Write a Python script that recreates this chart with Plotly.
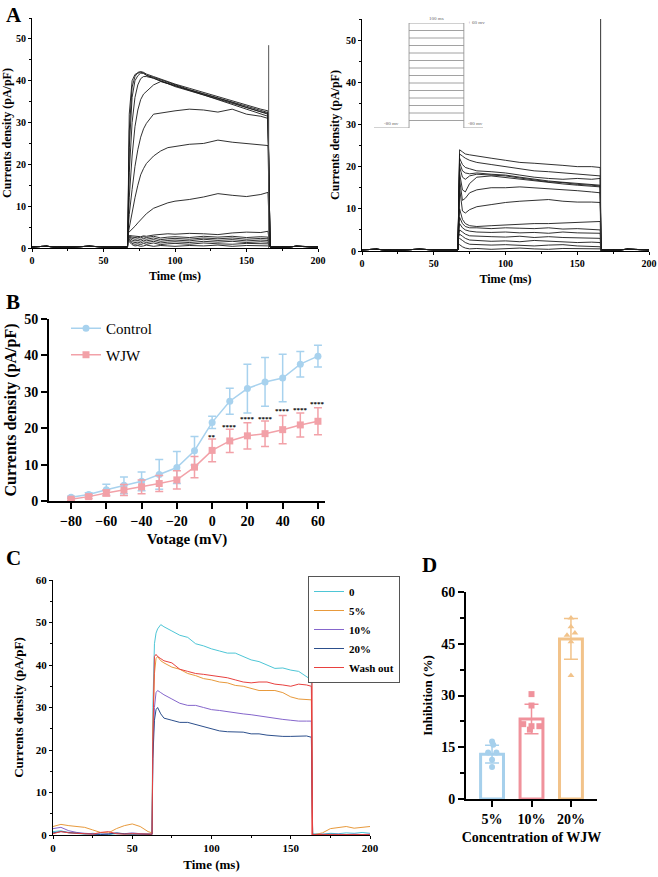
import plotly.graph_objects as go

W, H = 658, 877
SERIF = "Liberation Serif"

# ---------------- DATA ----------------
# Panel A (left: control, right: WJW) – step phase time points (ms)
A_pre_t = [0, 10, 20, 30, 40, 50, 60, 66.8]
A_pre_v = [0.3, 0.4, 0.2, 0.3, 0.4, 0.3, 0.2, 0.3]
A_post_t = [166.5, 175, 185, 195, 200]
A_post_v = [0.3, 0.2, 0.4, 0.3, 0.3]

A_left_t = [67, 68, 70, 72, 74, 76, 78, 80, 85, 90, 95, 100, 110, 120, 130, 140, 150, 160, 165]
A_left = {
    -80: [2.5, 1.5, 0.8, 0.5, 0.6, 0.4, 0.5, 0.7, 0.4, 0.6, 0.5, 0.4, 0.6, 0.5, 0.7, 0.4, 0.6, 0.5, 0.5],
    -70: [2.7, 1.8, 1.1, 0.9, 1.0, 0.8, 1.1, 0.9, 1.2, 0.8, 1.0, 1.1, 0.9, 1.2, 1.0, 0.9, 1.1, 1.0, 1.0],
    -60: [2.9, 2.1, 1.5, 1.3, 1.4, 1.2, 1.5, 1.3, 1.6, 1.2, 1.4, 1.5, 1.3, 1.6, 1.4, 1.6, 1.3, 1.5, 1.4],
    -50: [3.0, 2.4, 1.9, 1.7, 1.8, 1.6, 1.9, 1.7, 2.0, 1.6, 1.8, 1.9, 1.7, 2.1, 1.8, 2.0, 1.7, 1.9, 1.8],
    -40: [3.1, 2.6, 2.3, 2.1, 2.2, 2.0, 2.3, 2.1, 2.4, 2.0, 2.2, 2.3, 2.1, 2.4, 2.2, 2.4, 2.1, 2.3, 2.2],
    -30: [3.2, 2.8, 2.6, 2.5, 2.6, 2.4, 2.7, 2.5, 2.8, 2.4, 2.6, 2.7, 2.5, 2.8, 2.6, 2.8, 2.5, 2.7, 2.6],
    -20: [3.3, 3.0, 2.9, 2.8, 2.8, 2.7, 2.9, 2.8, 3.1, 3.2, 3.4, 3.3, 3.5, 3.4, 3.2, 3.6, 3.8, 3.7, 4.0],
    -10: [3.5, 3.8, 4.5, 5.2, 6.0, 6.8, 7.5, 8.2, 9.5, 10.2, 10.8, 11.2, 11.6, 12.2, 13.0, 12.6, 12.3, 12.8, 13.3],
    0: [3.0, 5.0, 8.5, 12.0, 15.0, 17.5, 19.0, 20.2, 22.0, 23.2, 24.0, 24.3, 24.8, 25.0, 25.8, 25.3, 25.0, 24.6, 24.5],
    10: [3.0, 8.0, 14.0, 19.5, 23.5, 26.5, 28.5, 29.8, 32.0, 32.3, 32.6, 32.8, 33.2, 33.0, 32.5, 33.2, 32.0, 31.5, 31.0],
    20: [3.0, 12.0, 22.0, 29.0, 33.0, 35.5, 36.8, 37.5, 39.0, 39.8, 39.3, 38.8, 37.8, 36.8, 35.8, 34.8, 33.6, 32.6, 32.0],
    30: [3.0, 18.0, 30.0, 36.0, 39.0, 40.5, 41.0, 41.0, 40.6, 40.0, 39.3, 38.6, 37.6, 36.6, 35.6, 34.6, 33.5, 32.6, 32.2],
    40: [3.0, 24.0, 36.0, 40.0, 41.2, 41.8, 41.8, 41.3, 40.8, 40.2, 39.6, 39.0, 37.9, 36.9, 35.9, 34.9, 33.8, 32.8, 32.4],
    50: [3.0, 28.0, 38.5, 41.0, 42.0, 42.2, 42.0, 41.6, 41.0, 40.4, 39.8, 39.2, 38.2, 37.2, 36.2, 35.2, 34.1, 33.2, 32.8],
    60: [3.0, 32.0, 40.0, 41.5, 41.8, 42.0, 41.8, 41.3, 40.6, 39.9, 39.4, 38.8, 37.7, 36.6, 35.5, 34.4, 33.3, 32.2, 31.5],
}
A_left_transient_t = [165.5, 165.5]
A_left_transient_v = [0, 48.5]

A_right_t = [67, 68, 70, 72, 75, 80, 90, 100, 110, 120, 130, 140, 150, 160, 166]
A_right = {
    60: [3, 24.0, 23.5, 23.0, 22.8, 22.5, 22.0, 21.5, 21.0, 20.8, 20.6, 20.3, 20.0, 20.0, 19.8],
    50: [3, 23.0, 22.5, 22.0, 21.5, 21.0, 20.5, 20.0, 19.5, 19.0, 18.8, 18.5, 18.2, 18.0, 17.8],
    40: [3, 22.0, 20.5, 19.8, 19.5, 19.0, 18.8, 18.5, 18.0, 17.5, 17.2, 17.0, 17.2, 17.0, 17.2],
    30: [3, 21.0, 19.0, 18.5, 18.3, 18.5, 18.2, 18.0, 17.5, 17.0, 16.6, 16.3, 16.0, 15.8, 15.6],
    20: [3, 20.0, 17.5, 17.0, 17.8, 18.2, 18.0, 17.8, 17.3, 16.8, 16.4, 16.2, 15.8, 15.6, 15.4],
    10: [3, 18.5, 14.5, 14.0, 16.0, 17.5, 17.8, 17.4, 17.0, 16.6, 16.2, 15.9, 15.6, 15.3, 15.2],
    0: [3, 17.0, 12.0, 12.5, 13.8, 14.5, 15.0, 15.0, 15.2, 15.0, 14.8, 14.6, 14.3, 14.0, 13.8],
    -10: [3, 15.0, 9.5, 9.0, 9.8, 10.5, 11.0, 11.5, 11.8, 12.0, 12.2, 11.8, 11.6, 11.6, 11.5],
    -20: [3, 10.0, 7.5, 6.5, 6.0, 5.8, 6.0, 6.2, 6.3, 6.5, 6.5, 6.6, 6.7, 6.8, 7.0],
    -30: [3, 8.0, 6.5, 5.8, 5.5, 5.5, 5.3, 5.5, 5.4, 5.3, 5.5, 5.2, 5.3, 5.1, 5.0],
    -40: [3, 6.5, 5.5, 5.0, 4.7, 4.5, 4.4, 4.5, 4.3, 4.4, 4.2, 4.5, 4.3, 4.2, 4.2],
    -50: [3, 5.0, 4.5, 4.0, 3.6, 3.5, 3.4, 3.3, 3.5, 3.2, 3.4, 3.2, 3.1, 3.0, 3.0],
    -60: [3, 4.0, 3.5, 3.0, 2.6, 2.5, 2.3, 2.4, 2.2, 2.5, 2.3, 2.1, 2.0, 2.1, 2.0],
    -70: [3, 3.0, 2.5, 2.0, 1.6, 1.5, 1.4, 1.5, 1.3, 1.2, 1.4, 1.5, 1.2, 1.0, 1.0],
    -80: [1.5, 1.5, 1.0, 0.7, 0.5, 0.6, 0.4, 0.5, 0.7, 0.5, 0.4, 0.6, 0.5, 0.4, 0.5],
}
A_right_transient_t = [166.3, 166.3]
A_right_transient_v = [0, 60]

# voltage protocol inset
protocol_levels = [-80, -70, -60, -50, -40, -30, -20, -10, 0, 10, 20, 30, 40, 50, 60]
protocol_hold = -80
protocol_step_ms = 100

# Panel B – I-V curve
voltage = [-80, -70, -60, -50, -40, -30, -20, -10, 0, 10, 20, 30, 40, 50, 60]
control_mean = [1.0, 1.8, 3.1, 4.3, 5.4, 7.3, 9.2, 13.8, 21.6, 27.4, 30.9, 32.7, 33.8, 37.6, 39.8]
control_sd = [0.3, 0.5, 1.5, 2.3, 2.6, 4.1, 4.4, 3.9, 1.7, 3.6, 6.7, 6.7, 6.5, 3.5, 3.0]
wjw_mean = [0.5, 1.2, 2.2, 3.0, 3.9, 4.8, 5.8, 9.3, 13.9, 16.5, 17.9, 18.5, 19.6, 20.9, 21.9]
wjw_sd = [0.3, 0.5, 0.8, 1.5, 1.9, 2.2, 2.5, 2.9, 3.1, 3.2, 3.6, 3.5, 3.9, 3.3, 3.7]
star_v = [0, 10, 20, 30, 40, 50, 60]
star_y = [17.6, 20.3, 22.5, 22.5, 24.6, 24.9, 26.6]
star_text = ["**", "****", "****", "****", "****", "****", "****"]

# Panel C – representative traces
C_pre_t = [0, 5, 10, 15, 20, 25, 30, 35, 40, 45, 50, 55, 60, 62.5]
C_step_t = [63, 64, 65, 66, 68, 70, 75, 80, 85, 90, 95, 100, 105, 110, 115, 120, 125, 130,
            135, 140, 145, 150, 155, 160, 163]
C_post_t = [163.8, 170, 175, 180, 185, 190, 195, 200]
C_names = ["0", "5%", "10%", "20%", "Wash out"]
C_pre = [
    [0.8, 1.0, 0.5, 0.3, 0.2, 0.4, 0.2, 0.1, 0.3, 0.2, 0.1, 0.3, 0.2, 0.3],
    [2.0, 2.5, 2.2, 2.0, 1.8, 1.2, 0.6, 0.5, 1.5, 2.2, 2.6, 2.0, 0.8, 0.5],
    [1.5, 1.8, 1.0, 0.6, 0.4, 0.3, 0.2, 0.3, 0.4, 0.3, 0.5, 0.3, 0.2, 0.2],
    [0.5, 0.8, 0.6, 0.4, 0.3, 0.2, 0.1, 0.2, 0.5, 0.3, 0.2, 0.1, 0.1, 0.1],
    [0.3, 0.8, 0.5, 0.4, 0.3, 0.2, 0.6, 0.8, 0.3, 0.2, 0.3, 0.2, 0.2, 0.2],
]
C_step = [
    [30, 45, 47.5, 48.5, 49.5, 49.0, 48.0, 47.0, 46.5, 45.0, 44.5, 43.8, 43.3, 42.8, 42.8, 42.0,
     41.2, 40.8, 40.0, 39.2, 39.3, 38.8, 38.5, 37.3, 36.5],
    [25, 38, 41.5, 42.0, 41.0, 40.5, 39.5, 39.0, 38.0, 37.5, 36.8, 36.5, 36.0, 35.8, 35.2, 35.0,
     34.5, 34.0, 34.0, 34.0, 33.5, 32.5, 32.0, 31.8, 31.8],
    [20, 30, 33.5, 34.0, 33.5, 33.0, 32.0, 31.0, 30.5, 30.5, 30.0, 29.5, 29.3, 29.0, 28.8, 28.5,
     28.3, 28.0, 27.8, 27.5, 27.2, 27.0, 26.8, 26.8, 26.8],
    [18, 27, 29.5, 30.0, 28.5, 27.5, 27.0, 26.5, 26.5, 26.0, 25.5, 25.0, 24.5, 24.3, 24.3, 24.2,
     23.8, 23.8, 23.5, 23.3, 23.2, 23.2, 23.3, 23.3, 23.0],
    [22, 42.0, 42.5, 42.0, 41.5, 41.0, 40.5, 39.0, 38.5, 38.0, 37.8, 37.5, 37.2, 37.0, 36.5, 36.0,
     35.8, 36.0, 36.0, 35.5, 35.3, 35.0, 35.5, 35.3, 35.0],
]
C_post = [
    [0.3, 0.2, 0.4, 0.3, 0.5, 0.4, 0.6, 0.4],
    [0.0, 0.5, 1.5, 1.8, 2.0, 1.6, 1.8, 2.0],
    [0.1, 0.2, 0.1, 0.2, 0.1, 0.2, 0.1, 0.2],
    [0.1, 0.1, 0.2, 0.1, 0.1, 0.2, 0.1, 0.1],
    [0.1, 0.1, 0.1, 0.2, 0.1, 0.1, 0.2, 0.1],
]
C_washout_transient_t = [163.4, 163.4]
C_washout_transient_v = [0, 49.5]
C_colors = ["#4ec6d6", "#e89a3c", "#8566cc", "#2c4f8c", "#e8413f"]

# Panel D – inhibition
D_cats = ["5%", "10%", "20%"]
D_mean = [13.0, 23.2, 46.4]
D_sd = [2.6, 4.3, 5.9]
D_points = [
    [16.7, 15.7, 13.5, 13.5, 11.4, 9.3],
    [30.4, 27.1, 21.7, 21.1, 21.1, 20.1],
    [52.5, 49.9, 47.5, 48.1, 45.6, 35.8],
]
D_jitter = [
    [0.0, 0.03, -0.1, 0.11, 0.0, 0.0],
    [0.0, 0.0, -0.21, 0.0, 0.2, -0.04],
    [0.0, 0.0, -0.1, 0.1, 0.0, 0.0],
]
D_colors = ["#a6d0ec", "#f0929c", "#f2c38a"]
D_symbols = ["circle", "square", "triangle-up"]


# ---------------- HELPERS ----------------
def dx(a, b):
    return [a / W, b / W]


def dy(top, bottom):
    return [1 - bottom / H, 1 - top / H]


def fnt(size, bold=True, color="black"):
    return dict(family=SERIF, size=size, color=color, weight="bold" if bold else "normal")


fig = go.Figure()

# Panel A left
for v, vals in A_left.items():
    fig.add_trace(go.Scatter(x=A_pre_t + A_left_t + A_post_t, y=A_pre_v + vals + A_post_v,
                             mode="lines", line=dict(color="#1a1a1a", width=0.9),
                             showlegend=False, xaxis="x", yaxis="y", hoverinfo="skip"))
fig.add_trace(go.Scatter(x=A_left_transient_t, y=A_left_transient_v, mode="lines",
                         line=dict(color="#555555", width=1), showlegend=False,
                         xaxis="x", yaxis="y"))

# Panel A right
for v, vals in A_right.items():
    fig.add_trace(go.Scatter(x=A_pre_t + A_right_t + A_post_t, y=A_pre_v + vals + A_post_v,
                             mode="lines", line=dict(color="#1a1a1a", width=0.9),
                             showlegend=False, xaxis="x2", yaxis="y2", hoverinfo="skip"))
fig.add_trace(go.Scatter(x=A_right_transient_t, y=A_right_transient_v, mode="lines",
                         line=dict(color="#333333", width=1), showlegend=False,
                         xaxis="x2", yaxis="y2"))

# Protocol inset
pc = "#8a8a8a"
fig.add_trace(go.Scatter(x=[-64, 0, 0], y=[protocol_hold, protocol_hold, max(protocol_levels)],
                         mode="lines", line=dict(color=pc, width=0.8), showlegend=False,
                         xaxis="x6", yaxis="y6"))
fig.add_trace(go.Scatter(x=[protocol_step_ms, protocol_step_ms, 135],
                         y=[max(protocol_levels), protocol_hold, protocol_hold],
                         mode="lines", line=dict(color=pc, width=0.8), showlegend=False,
                         xaxis="x6", yaxis="y6"))
for lv in protocol_levels[1:]:
    fig.add_trace(go.Scatter(x=[0, protocol_step_ms], y=[lv, lv], mode="lines",
                             line=dict(color=pc, width=0.8), showlegend=False,
                             xaxis="x6", yaxis="y6"))

# Panel B
for name, m, sd, col, sym in [("Control", control_mean, control_sd, "#a8d2ee", "circle"),
                              ("WJW", wjw_mean, wjw_sd, "#f2a1a8", "square")]:
    fig.add_trace(go.Scatter(x=voltage, y=m, name=name, mode="lines+markers",
                             line=dict(color=col, width=1.5),
                             marker=dict(symbol=sym, size=7, color=col),
                             error_y=dict(type="data", array=sd, color=col, thickness=1.5, width=4),
                             xaxis="x3", yaxis="y3", legend="legend", legendgroup=name))

# Panel C
for i, name in enumerate(C_names):
    xs = C_pre_t + C_step_t + C_post_t
    ys = C_pre[i] + C_step[i] + C_post[i]
    fig.add_trace(go.Scatter(x=xs, y=ys, name=name, mode="lines",
                             line=dict(color=C_colors[i], width=1),
                             xaxis="x4", yaxis="y4", legend="legend2"))
fig.add_trace(go.Scatter(x=C_washout_transient_t, y=C_washout_transient_v, mode="lines",
                         line=dict(color=C_colors[4], width=1.2), showlegend=False,
                         xaxis="x4", yaxis="y4"))

# Panel D
for i, cat in enumerate(D_cats):
    fig.add_trace(go.Bar(x=[i], y=[D_mean[i]], width=0.58,
                         marker=dict(color="white", line=dict(color=D_colors[i], width=3)),
                         error_y=dict(type="data", array=[D_sd[i]], color=D_colors[i],
                                      thickness=1.5, width=7),
                         showlegend=False, xaxis="x5", yaxis="y5"))
    fig.add_trace(go.Scatter(x=[i + j for j in D_jitter[i]], y=D_points[i], mode="markers",
                             marker=dict(symbol=D_symbols[i], size=6, color=D_colors[i]),
                             showlegend=False, xaxis="x5", yaxis="y5"))


# ---------------- AXES ----------------
def trace_axis(domain, rng, dtick, minor, title, tsize=10, titlesize=12, standoff=4):
    return dict(domain=domain, range=rng, showline=True, linecolor="black", linewidth=1,
                ticks="outside", ticklen=3, tickwidth=1, tickcolor="black", dtick=dtick,
                minor=dict(ticks="outside", ticklen=2, dtick=minor, tickcolor="black"),
                showgrid=False, zeroline=False, tickfont=fnt(tsize), automargin=False,
                title=dict(text=title, font=fnt(titlesize), standoff=standoff))


layout = dict(
    width=W, height=H, margin=dict(l=0, r=0, t=0, b=0),
    paper_bgcolor="white", plot_bgcolor="rgba(0,0,0,0)", barmode="overlay",
    xaxis=trace_axis(dx(32, 318), [0, 200], 50, 25, "Time (ms)", standoff=6),
    yaxis=trace_axis(dy(18, 248), [0, 55], 10, 5, "Currents density (pA/pF)", standoff=3),
    xaxis2=trace_axis(dx(362, 649), [0, 200], 50, 25, "Time (ms)", standoff=6),
    yaxis2=trace_axis(dy(19, 251), [0, 55], 10, 5, "Currents density (pA/pF)", standoff=3),
    xaxis4=trace_axis(dx(53, 370), [0, 200], 50, 25, "Time (ms)", tsize=11, titlesize=13, standoff=6),
    yaxis4=trace_axis(dy(580, 835), [0, 60], 10, 5, "Currents density (pA/pF)", tsize=11,
                      titlesize=13, standoff=9),
    xaxis3=dict(domain=dx(49, 325), range=[-92.5, 64], showline=True, linecolor="black",
                linewidth=2, ticks="outside", ticklen=6, tickwidth=2, tickcolor="black",
                tick0=0, dtick=20, showgrid=False, zeroline=False, tickfont=fnt(14),
                automargin=False, title=dict(text="Votage (mV)", font=fnt(15), standoff=6)),
    yaxis3=dict(domain=dy(319, 501), range=[0, 50], showline=True, linecolor="black",
                linewidth=2, ticks="outside", ticklen=6, tickwidth=2, tickcolor="black",
                dtick=10, showgrid=False, zeroline=False, tickfont=fnt(14), automargin=False,
                title=dict(text="Currents density (pA/pF)", font=fnt(16), standoff=4)),
    xaxis5=dict(domain=dx(466, 597), range=[-0.66, 2.66], showline=True, linecolor="black",
                linewidth=2, ticks="outside", ticklen=6, tickwidth=2, tickcolor="black",
                tickvals=[0, 1, 2], ticktext=D_cats, showgrid=False, zeroline=False,
                tickfont=fnt(14), automargin=False,
                title=dict(text="Concentration of WJW", font=fnt(14), standoff=6)),
    yaxis5=dict(domain=dy(592, 799), range=[0, 60], showline=True, linecolor="black",
                linewidth=2, ticks="outside", ticklen=6, tickwidth=2, tickcolor="black",
                dtick=15, minor=dict(ticks="outside", ticklen=4, dtick=7.5, tickwidth=2,
                                     tickcolor="black"),
                showgrid=False, zeroline=False, tickfont=fnt(14), automargin=False,
                title=dict(text="Inhibition (%)", font=fnt(13), standoff=6)),
    xaxis6=dict(domain=dx(374, 483), range=[-64, 135], visible=False, fixedrange=True),
    yaxis6=dict(domain=dy(23, 128), range=[-80, 60], visible=False, fixedrange=True),
    legend=dict(x=66 / W, y=1 - 312 / H, xanchor="left", yanchor="top",
                font=dict(family=SERIF, size=15, color="black"), bgcolor="rgba(0,0,0,0)",
                tracegroupgap=4, itemwidth=30),
    legend2=dict(x=400 / W, y=1 - 576 / H, xanchor="right", yanchor="top",
                 font=fnt(11), bgcolor="white", bordercolor="#555555", borderwidth=1,
                 itemwidth=30, tracegroupgap=0),
)
for xa, ya in [("xaxis", "y"), ("xaxis2", "y2"), ("xaxis3", "y3"), ("xaxis4", "y4"),
               ("xaxis5", "y5"), ("xaxis6", "y6")]:
    layout[xa]["anchor"] = ya
for ya, xa in [("yaxis", "x"), ("yaxis2", "x2"), ("yaxis3", "x3"), ("yaxis4", "x4"),
               ("yaxis5", "x5"), ("yaxis6", "x6")]:
    layout[ya]["anchor"] = xa
fig.update_layout(**layout)

# Annotations
ann = []
for lab, x, y in [("A", 4, 1), ("B", 4, 288), ("C", 4, 544), ("D", 420, 551)]:
    ann.append(dict(text=lab, x=x / W, y=1 - y / H, xref="paper", yref="paper",
                    xanchor="left", yanchor="top", showarrow=False, font=fnt(21)))
for v, y, t in zip(star_v, star_y, star_text):
    ann.append(dict(text=t, x=v, y=y, xref="x3", yref="y3", yanchor="middle",
                    showarrow=False, font=fnt(7)))
small = dict(family=SERIF, size=5, color="#666666")
ann += [
    dict(text="-80 mv", x=-32, y=protocol_hold, xref="x6", yref="y6", yanchor="bottom",
         showarrow=False, font=small),
    dict(text="100 ms", x=protocol_step_ms / 2, y=max(protocol_levels), xref="x6", yref="y6",
         yanchor="bottom", showarrow=False, font=small),
    dict(text="+ 60 mv", x=104, y=max(protocol_levels), xref="x6", yref="y6", xanchor="left",
         yanchor="middle", showarrow=False, font=small),
    dict(text="-80 mv", x=104, y=protocol_hold, xref="x6", yref="y6", xanchor="left",
         yanchor="bottom", showarrow=False, font=small),
]
fig.update_layout(annotations=ann)

fig.write_html("out.html")
